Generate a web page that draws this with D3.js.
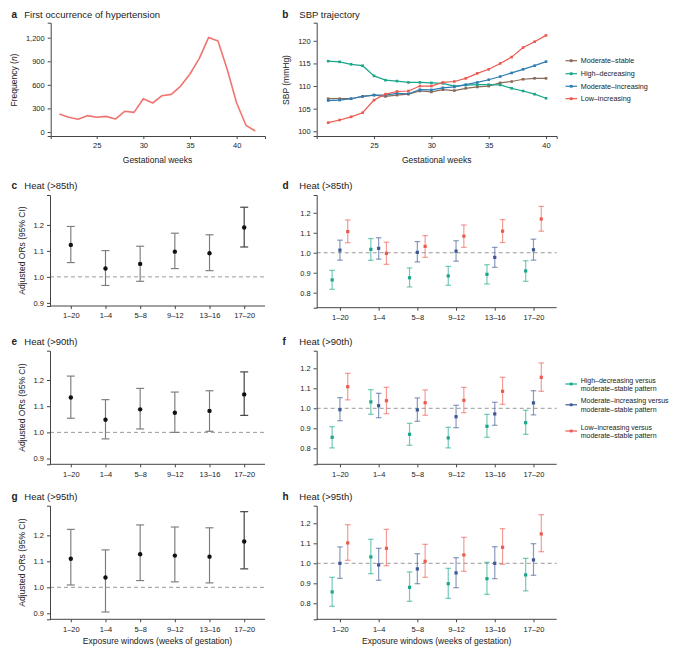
<!DOCTYPE html>
<html><head><meta charset="utf-8">
<script src="https://cdn.jsdelivr.net/npm/d3@7"></script>
<style>
body{margin:0;background:#fff;}
text{font-family:"Liberation Sans",Arial,sans-serif;fill:#222;}
</style></head>
<body>
<svg id="c" width="679" height="651"></svg>
<script>
// ---------- DATA ----------
const weeksA = [21,22,23,24,25,26,27,28,29,30,31,32,33,34,35,36,37,38,39,40,41,42];
const freqA  = [229,187,161,208,187,199,165,263,250,424,369,462,479,585,738,937,1204,1158,793,369,85,13];

const weeksB = [21,22,23,24,25,26,27,28,29,30,31,32,33,34,35,36,37,38,39,40];
const sbpModerateStable     = [107.2,107.2,107.2,107.7,108.0,107.7,108.0,108.2,108.9,108.7,109.2,109.0,109.5,109.8,110.0,110.7,111.0,111.5,111.7,111.7];
const sbpHighDecreasing     = [115.5,115.35,114.8,114.5,112.25,111.3,111.1,110.8,110.8,110.7,110.6,110.0,110.2,110.3,110.3,110.25,109.5,108.9,108.2,107.3];
const sbpModerateIncreasing = [106.8,106.9,107.2,107.7,108.0,108.0,108.4,108.3,109.2,109.15,109.6,109.8,110.3,110.8,111.4,112.1,112.9,113.7,114.5,115.4];
const sbpLowIncreasing      = [101.9,102.5,103.2,104.1,106.9,108.2,108.8,108.9,110.0,110.0,110.8,111.0,111.7,112.8,113.7,115.0,116.4,118.5,119.8,121.2];
const trajectoryNames = ["Moderate–stable","High–decreasing","Moderate–increasing","Low–increasing"];

const windows = ["1–20","1–4","5–8","9–12","13–16","17–20"];

// overall ORs [OR, lower, upper]
const heat85All = [[1.123,1.055,1.194],[1.032,0.967,1.101],[1.050,0.983,1.118],[1.097,1.032,1.168],[1.091,1.024,1.162],[1.190,1.115,1.268]];
const heat90All = [[1.133,1.054,1.215],[1.048,0.975,1.125],[1.088,1.013,1.168],[1.075,1.000,1.154],[1.082,1.004,1.159],[1.145,1.065,1.231]];
const heat95All = [[1.110,1.009,1.223],[1.038,0.905,1.144],[1.127,1.026,1.240],[1.122,1.021,1.232],[1.118,1.017,1.229],[1.176,1.071,1.291]];

// by trajectory versus moderate-stable [OR, lower, upper]
const heat85High = [[0.864,0.817,0.912],[1.017,0.962,1.071],[0.875,0.829,0.924],[0.884,0.837,0.932],[0.892,0.844,0.940],[0.909,0.857,0.960]];
const heat85Mod  = [[1.013,0.963,1.063],[1.022,0.968,1.075],[1.002,0.954,1.056],[1.008,0.958,1.060],[0.977,0.927,1.027],[1.015,0.963,1.068]];
const heat85Low  = [[1.106,1.050,1.164],[0.997,0.942,1.053],[1.032,0.977,1.086],[1.083,1.027,1.139],[1.108,1.051,1.166],[1.169,1.108,1.232]];

const heat90High = [[0.855,0.802,0.908],[1.032,0.970,1.093],[0.870,0.815,0.925],[0.852,0.802,0.905],[0.910,0.855,0.970],[0.928,0.870,0.990]];
const heat90Mod  = [[0.993,0.938,1.053],[1.013,0.953,1.075],[0.992,0.935,1.052],[0.958,0.903,1.015],[0.972,0.915,1.030],[1.027,0.967,1.088]];
const heat90Low  = [[1.108,1.042,1.175],[1.038,0.973,1.105],[1.028,0.965,1.092],[1.040,0.978,1.105],[1.085,1.020,1.155],[1.155,1.085,1.227]];

const heat95High = [[0.857,0.785,0.930],[1.032,0.948,1.120],[0.880,0.810,0.957],[0.898,0.825,0.975],[0.923,0.845,1.005],[0.942,0.862,1.025]];
const heat95Mod  = [[1.000,0.925,1.082],[0.992,0.915,1.075],[0.972,0.898,1.048],[0.952,0.878,1.028],[1.000,0.923,1.083],[1.017,0.940,1.098]];
const heat95Low  = [[1.102,1.015,1.193],[1.075,0.988,1.170],[1.010,0.930,1.095],[1.042,0.960,1.130],[1.080,0.995,1.173],[1.147,1.058,1.243]];

const contrastNames = [["High–decreasing versus","moderate–stable pattern"],["Moderate–increasing versus","moderate–stable pattern"],["Low–increasing versus","moderate–stable pattern"]];

const ticksA = [0,300,600,900,1200];
const ticksB = [100,105,110,115,120];
const ticksWeeks = [25,30,35,40];
const ticksOrLeft = [0.9,1.0,1.1,1.2];
const ticksOrRight = [0.8,0.9,1.0,1.1,1.2];

// ---------- STYLE ----------
const AX = "#444";
const colTraj = ["#8a6a58","#1aa68a","#2e7db3","#ec5a4f"];
const colContrast = ["#1aa68a","#3d5895","#ec5a4f"];

const svg = d3.select("#c");

function yAxis(g, y, x0, ticks, fmt){
  const a = g.append("g").attr("transform",`translate(${x0},0)`)
    .call(d3.axisLeft(y).tickValues(ticks).tickSize(3).tickPadding(3).tickFormat(fmt));
  styleAxis(a);
}
function xAxisLin(g, x, y0, ticks, fmt){
  const a = g.append("g").attr("transform",`translate(0,${y0})`)
    .call(d3.axisBottom(x).tickValues(ticks).tickSize(3).tickPadding(4).tickFormat(fmt));
  styleAxis(a);
}
function styleAxis(a){
  a.select(".domain").attr("stroke",AX).attr("stroke-width",1);
  a.selectAll(".tick line").attr("stroke",AX);
  a.selectAll("text").style("font-family","'Liberation Sans',Arial,sans-serif").style("font-size","7.5px").attr("fill","#222");
}
function title(letter, txt, xL, xT, yb){
  svg.append("text").attr("x",xL).attr("y",yb).style("font-weight","bold").style("font-size","10px").text(letter);
  svg.append("text").attr("x",xT).attr("y",yb).style("font-size","9.5px").text(txt);
}
function yLabel(txt, x, yc, italicN){
  const t = svg.append("text").attr("transform",`translate(${x},${yc}) rotate(-90)`).attr("text-anchor","middle").style("font-size","8.5px");
  if(italicN){
    t.append("tspan").text("Frequency (");
    t.append("tspan").style("font-style","italic").text("n");
    t.append("tspan").text(")");
  } else t.text(txt);
}
function xLabel(txt, xc, yb){
  svg.append("text").attr("x",xc).attr("y",yb).attr("text-anchor","middle").style("font-size","8.5px").text(txt);
}

// ---------- PANEL a ----------
{
  const x = d3.scaleLinear().domain([20.07,43.04]).range([50.7,265]);
  const y = d3.scaleLinear().domain([-51,1391]).range([136,22.7]);
  const g = svg.append("g");
  yAxis(g, y, 50.7, ticksA, d3.format(","));
  xAxisLin(g, x, 136, ticksWeeks, d3.format("d"));
  g.append("path").datum(weeksA.map((w,i)=>[w,freqA[i]]))
    .attr("d", d3.line().x(d=>x(d[0])).y(d=>y(d[1])))
    .attr("fill","none").attr("stroke","#f07570").attr("stroke-width",1.6).attr("stroke-linejoin","round");
  title("a","First occurrence of hypertension",11.5,24.3,17.5);
  yLabel("Frequency (n)",16.5,80,true);
  xLabel("Gestational weeks",157.5,163);
}

// ---------- PANEL b ----------
{
  const x = d3.scaleLinear().domain([20.0,40.93]).range([316.7,556.7]);
  const y = d3.scaleLinear().domain([98.96,124.0]).range([136,22.7]);
  const g = svg.append("g");
  yAxis(g, y, 316.7, ticksB, d3.format("d"));
  xAxisLin(g, x, 136, ticksWeeks, d3.format("d"));
  const series = [sbpModerateStable, sbpHighDecreasing, sbpModerateIncreasing, sbpLowIncreasing];
  [0,1,2,3].forEach(si=>{
    const vals = series[si];
    const pts = weeksB.map((w,i)=>[w,vals[i]]);
    g.append("path").datum(pts).attr("d",d3.line().x(d=>x(d[0])).y(d=>y(d[1])))
      .attr("fill","none").attr("stroke",colTraj[si]).attr("stroke-width",1.2);
    g.selectAll(null).data(pts).enter().append("rect")
      .attr("x",d=>x(d[0])-1.3).attr("y",d=>y(d[1])-1.3).attr("width",2.6).attr("height",2.6)
      .attr("fill",colTraj[si]);
  });
  const ly = [60.7,73.7,86.3,98.7];
  trajectoryNames.forEach((n,i)=>{
    g.append("line").attr("x1",565.5).attr("x2",577).attr("y1",ly[i]).attr("y2",ly[i]).attr("stroke",colTraj[i]).attr("stroke-width",1.2);
    g.append("rect").attr("x",571.2-1.4).attr("y",ly[i]-1.4).attr("width",2.8).attr("height",2.8).attr("fill",colTraj[i]);
    g.append("text").attr("x",580.7).attr("y",ly[i]+2.5).style("font-size","7.2px").text(n);
  });
  title("b","SBP trajectory",282.3,299.3,17.5);
  yLabel("SBP (mmHg)",289,80,false);
  xLabel("Gestational weeks",436.7,163);
}

// ---------- forest helpers ----------
function forestLeft(data, top, bottom, dom, letter, txt, showX){
  const x0 = 50, x1 = 265;
  const x = d3.scalePoint().domain(windows).range([x0,x1]).padding(0.6);
  const y = d3.scaleLinear().domain(dom).range([bottom,top]);
  const g = svg.append("g");
  g.append("line").attr("x1",x0).attr("x2",x1).attr("y1",y(1)).attr("y2",y(1))
    .attr("stroke","#9a9a9a").attr("stroke-width",1).attr("stroke-dasharray","4,3");
  yAxis(g, y, x0, ticksOrLeft, d3.format(".1f"));
  const xa = g.append("g").attr("transform",`translate(0,${bottom})`)
    .call(d3.axisBottom(x).tickSize(3).tickPadding(4));
  xa.select(".domain").attr("d",`M${x0},0H${x1}`);
  styleAxis(xa);
  data.forEach((d,i)=>{
    const cx = x(windows[i]);
    const c = i===5 ? "#3c3c3c" : "#7c7c7c";
    g.append("line").attr("x1",cx).attr("x2",cx).attr("y1",y(d[1])).attr("y2",y(d[2])).attr("stroke",c).attr("stroke-width",1.15);
    [d[1],d[2]].forEach(v=>g.append("line").attr("x1",cx-4).attr("x2",cx+4).attr("y1",y(v)).attr("y2",y(v)).attr("stroke",c).attr("stroke-width",1.15));
    g.append("circle").attr("cx",cx).attr("cy",y(d[0])).attr("r",2.2).attr("fill","#111");
  });
  title(letter,txt,11.5,24.3,top-6);
  yLabel("Adjusted ORs (95% CI)",25,(top+bottom)/2,false);
  if(showX) xLabel("Exposure windows (weeks of gestation)",157.5,643.5);
}
function forestRight(sets, top, bottom, dom, letter, txt, showX){
  const x0 = 316.7, x1 = 556.7;
  const x = d3.scalePoint().domain(windows).range([x0,x1]).padding(0.6);
  const y = d3.scaleLinear().domain(dom).range([bottom,top]);
  const g = svg.append("g");
  g.append("line").attr("x1",x0).attr("x2",x1).attr("y1",y(1)).attr("y2",y(1))
    .attr("stroke","#9a9a9a").attr("stroke-width",1).attr("stroke-dasharray","4,3");
  yAxis(g, y, x0, ticksOrRight, d3.format(".1f"));
  const xa = g.append("g").attr("transform",`translate(0,${bottom})`)
    .call(d3.axisBottom(x).tickSize(3).tickPadding(4));
  xa.select(".domain").attr("d",`M${x0},0H${x1}`);
  styleAxis(xa);
  const offs = [-7.8,0,7.8];
  sets.forEach((data,si)=>{
    const col = colContrast[si];
    data.forEach((d,i)=>{
      const cx = x(windows[i]) + offs[si];
      const eb = g.append("g").attr("stroke",col).attr("stroke-width",1.2).attr("stroke-opacity",0.6);
      eb.append("line").attr("x1",cx).attr("x2",cx).attr("y1",y(d[1])).attr("y2",y(d[2]));
      [d[1],d[2]].forEach(v=>eb.append("line").attr("x1",cx-2.8).attr("x2",cx+2.8).attr("y1",y(v)).attr("y2",y(v)));
      g.append("rect").attr("x",cx-1.6).attr("y",y(d[0])-1.6).attr("width",3.2).attr("height",3.2).attr("fill",col);
    });
  });
  title(letter,txt,282.5,299.3,top-6);
  if(showX) xLabel("Exposure windows (weeks of gestation)",436.7,643.5);
}

forestLeft(heat85All,195,306,[0.888,1.315],"c","Heat (>85th)",false);
forestLeft(heat90All,350.7,464.3,[0.878,1.312],"e","Heat (>90th)",false);
forestLeft(heat95All,505.7,619.3,[0.877,1.314],"g","Heat (>95th)",true);

forestRight([heat85High,heat85Mod,heat85Low],195,307.7,[0.725,1.289],"d","Heat (>85th)",false);
forestRight([heat90High,heat90Mod,heat90Low],350.7,464.3,[0.72,1.288],"f","Heat (>90th)",false);
forestRight([heat95High,heat95Mod,heat95Low],505.7,619.3,[0.72,1.288],"h","Heat (>95th)",true);

// legend f
{
  const rows = [[380,388,384],[400.7,409,404.8],[427,435,431]];
  contrastNames.forEach((n,i)=>{
    const yc = rows[i][2];
    svg.append("line").attr("x1",565.5).attr("x2",577).attr("y1",yc).attr("y2",yc).attr("stroke",colContrast[i]).attr("stroke-width",1.2);
    svg.append("rect").attr("x",571.2-1.4).attr("y",yc-1.4).attr("width",2.8).attr("height",2.8).attr("fill",colContrast[i]);
    svg.append("text").attr("x",580.7).attr("y",rows[i][0]+2.5).style("font-size","7px").text(n[0]);
    svg.append("text").attr("x",580.7).attr("y",rows[i][1]+2.5).style("font-size","7px").text(n[1]);
  });
}
</script>
</body></html>
